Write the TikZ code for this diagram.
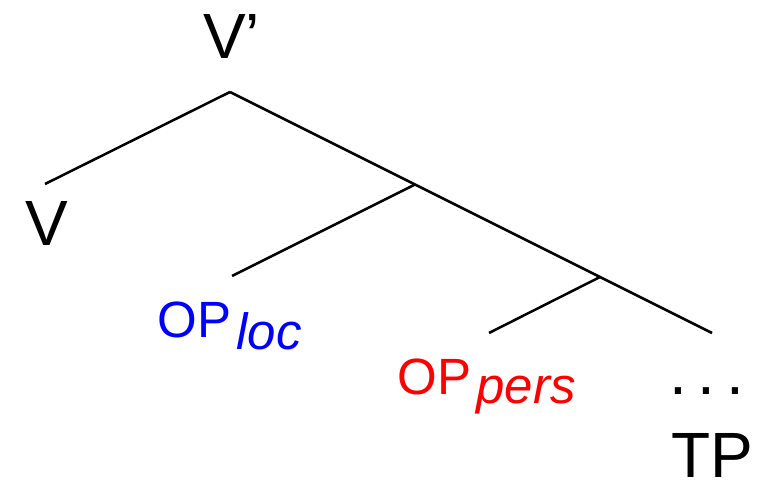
\documentclass[tikz,border=0pt]{standalone}
\usepackage{fontspec}
\setmainfont{Liberation Sans}
\definecolor{opblue}{RGB}{0,0,255}
\definecolor{opred}{RGB}{255,0,0}
\begin{document}
\begin{tikzpicture}[x=1pt,y=-1pt,
  branch/.style={line width=2.5pt,line cap=butt},
  bigtext/.style={inner sep=0pt,anchor=base west,font=\fontsize{64}{64}\selectfont},
  optext/.style={inner sep=0pt,anchor=base west,font=\fontsize{51}{51}\selectfont}]
\useasboundingbox (0,0) rectangle (760,481);
% tree points
\coordinate (apex) at (230,92);
\coordinate (vend) at (45,184);
\coordinate (j1) at (415,184.5);
\coordinate (locend) at (232,276);
\coordinate (j2) at (600,277);
\coordinate (persend) at (489,333);
\coordinate (mainend) at (712,333);
% branches
\draw[branch] (apex) -- (vend);
\draw[branch] (apex) -- (j1) -- (j2) -- (mainend);
\draw[branch] (j1) -- (locend);
\draw[branch] (j2) -- (persend);
% labels
\node[bigtext] (vbar) at (203,59) {V’};
\node[bigtext] (v) at (25,245) {V};
\node[optext,text=opblue] (oploc) at (157.5,337.5) {OP\kern5pt\raisebox{-12pt}{\itshape loc}};
\node[optext,text=opred] (oppers) at (397.5,394.5) {OP\kern5pt\raisebox{-9pt}{\itshape pers}};
\node[bigtext] (dots) at (669,394) {.\kern10.7pt.\kern10.7pt.};
\node[bigtext] (tp) at (671,477.5) {TP};
\end{tikzpicture}
\end{document}
